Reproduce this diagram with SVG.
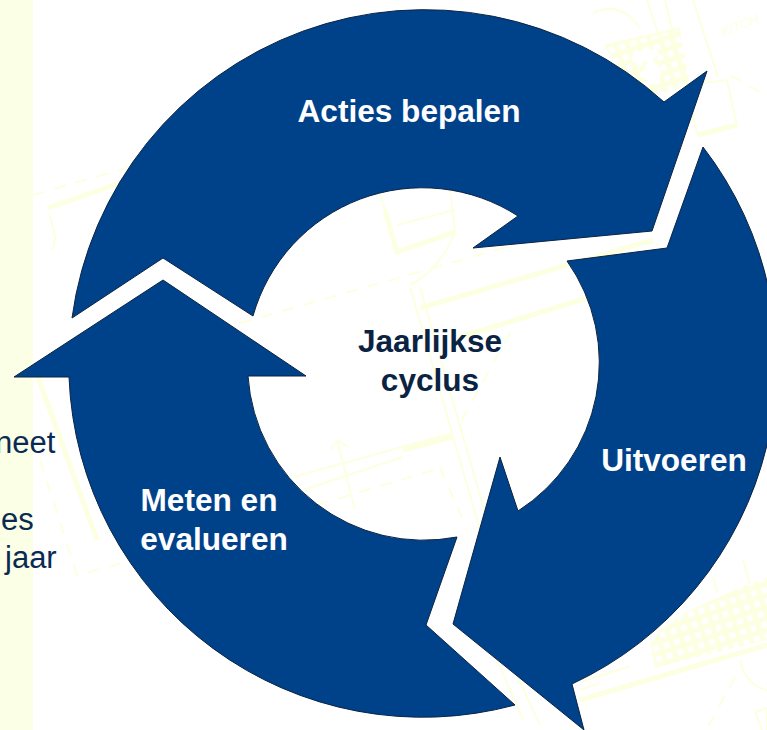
<svg xmlns="http://www.w3.org/2000/svg" width="767" height="730" viewBox="0 0 767 730">
<style>
.a{fill:#00428a;stroke:#0b2342;stroke-width:1;stroke-linejoin:miter}
.w{font:bold 31.6px "Liberation Sans",Arial,sans-serif;fill:#fff;text-anchor:middle}
.d{font:bold 31.6px "Liberation Sans",Arial,sans-serif;fill:#0a2342;text-anchor:middle}
.s{font:31px "Liberation Sans",Arial,sans-serif;fill:#0b2a52}
.p{fill:none;stroke:#fcffe0;stroke-width:2}
.t{fill:none;stroke:#fcffe0;stroke-width:5}
.h{fill:none;stroke:#fcffe0;stroke-width:2;stroke-dasharray:12 10}
</style>
<defs>
<pattern id="g" width="11" height="11" patternUnits="userSpaceOnUse" patternTransform="rotate(-18)">
<rect width="11" height="11" fill="#fcffe0"/><rect x="2.5" y="2.5" width="6" height="6" fill="#fff"/>
</pattern>
</defs>
<rect width="767" height="730" fill="#fff"/>
<rect width="33" height="730" fill="#fbffe6"/>
<g id="plan">
<path class="h" d="M33 195L130 167M240 323L507 247M317 505L443 467M440 467L467 530M510 333L460 423M40 460L77 575L123 563M735 677L708 727M730 75L760 92"/>
<path class="t" d="M48 208L120 183M38 377L97 540M420 308L653 240M460 337L587 298M403 450L453 437M385 210L397 252L455 232M605 47L680 30M697 135L737 125M580 700L767 645"/>
<path class="p" d="M50 215L55 237L53 250M380 193L397 252M397 225L455 210M450 190L455 232M410 287L480 530M420 287L490 530M293 477L453 433M303 490L403 457M337 440L355 510M330 450L337 440L348 447M455 232Q440 270 410 285M647 0L658 33M665 0L697 133M693 0L718 77M593 13Q620 0 640 28M703 83L727 80L737 125M743 560L765 640M713 577L717 593M740 660Q745 685 767 690M755 712L767 708L767 730M755 712L762 730M497 660L523 720M510 660L540 725M580 690L600 683M580 682L650 660"/>
<path d="M605 47L680 30L690 85L640 100Z" fill="url(#g)"/>
<ellipse cx="645" cy="56" rx="14" ry="6" fill="#fff" transform="rotate(-15 645 56)"/>
<ellipse cx="652" cy="73" rx="9" ry="11" fill="#fff"/>
<path d="M650 640L680 615L745 585L767 578L767 640L655 668Z" fill="url(#g)"/>
<rect x="630" y="662" width="21" height="7" fill="#fff" transform="rotate(-18 640 665)"/>
<text x="723" y="36" transform="rotate(-20 723 36)" style="font:italic 13px 'Liberation Sans',sans-serif;fill:#fcffe0">KITCH</text>
</g>
<g id="left-text">
<text class="s" x="-5" y="453">neet</text>
<text class="s" x="1" y="530">es</text>
<text class="s" x="5" y="568">jaar</text>
</g>
<g id="connectors"></g>
<g id="acties">
<path class="a" d="M72 318A356 356 0 0 1 664 102L707 71L652 231L473 248L518 216A176 176 0 0 0 253 316L163 258Z"/>
<text class="w" x="409" y="122">Acties bepalen</text>
</g>
<g id="uitvoeren">
<path class="a" d="M703 147L667 248L567 261A176 176 0 0 1 518 511L500 457L453 624L584 730L572 684A354 354 0 0 0 703 147Z"/>
<text class="w" x="674" y="471">Uitvoeren</text>
</g>
<g id="meten">
<path class="a" d="M457 537L426 625L515 705A354 354 0 0 1 69 377L14 377L163 280L306 376L248 376A176 176 0 0 0 457 537Z"/>
<text class="w" x="209" y="511">Meten en</text>
<text class="w" x="214" y="550">evalueren</text>
</g>
<g id="centre">
<text class="d" x="430" y="352">Jaarlijkse</text>
<text class="d" x="430" y="391">cyclus</text>
</g>
</svg>
